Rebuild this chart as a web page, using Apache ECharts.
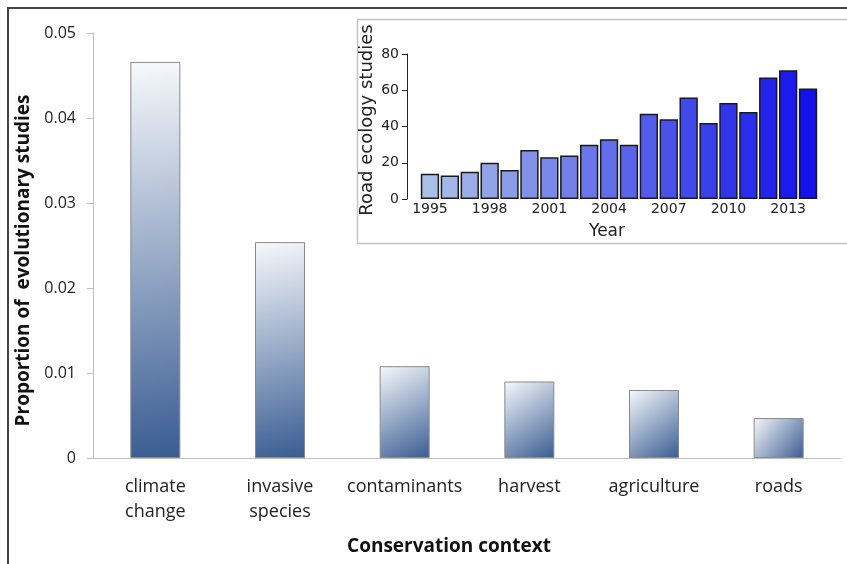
<!DOCTYPE html>
<html>
<head>
<meta charset="utf-8">
<script src="https://cdn.jsdelivr.net/npm/echarts@6/dist/echarts.min.js"></script>
<style>
  html, body { margin: 0; padding: 0; background: #fff; }
  #chart { width: 847px; height: 564px; }
</style>
</head>
<body>
<div id="chart"></div>
<script>
  // main chart: proportion of evolutionary studies per conservation context
  var contexts = ['climate change', 'invasive species', 'contaminants', 'harvest', 'agriculture', 'roads'];
  var proportions = [0.0466, 0.0254, 0.0108, 0.0090, 0.0080, 0.0047];
  var propTicks = [0, 0.01, 0.02, 0.03, 0.04, 0.05];

  // inset: road ecology studies per year
  var years = ['1995', '1996', '1997', '1998', '1999', '2000', '2001', '2002', '2003', '2004',
    '2005', '2006', '2007', '2008', '2009', '2010', '2011', '2012', '2013', '2014'];
  var roadStudies = [14, 13, 15, 20, 16, 27, 23, 24, 30, 33, 30, 47, 44, 56, 42, 53, 48, 67, 71, 61];
  var roadTicks = [0, 20, 40, 60, 80];

  var mainFont = '"Open Sans", "Liberation Sans", sans-serif';
  var insetFont = '"DejaVu Sans", sans-serif';

  function yearColor(i, n) {
    var a = [170, 191, 231], b = [18, 18, 236];
    var t = i / (n - 1);
    var c = a.map(function (v, k) { return Math.round(v + (b[k] - v) * t); });
    return 'rgb(' + c.join(',') + ')';
  }

  var chart = echarts.init(document.getElementById('chart'));

  chart.setOption({
    animation: false,
    backgroundColor: '#fff',
    graphic: [
      {
        type: 'rect',
        shape: {x: 8, y: 8, width: 900, height: 600},
        style: {fill: 'none', stroke: '#444', lineWidth: 2},
        silent: true
      },
      {
        type: 'rect',
        shape: {x: 357.5, y: 19.5, width: 600, height: 224},
        style: {fill: 'none', stroke: '#c4c4c4', lineWidth: 1.5},
        silent: true
      }
    ],
    grid: [
      {left: 93, right: 6, top: 33, bottom: 106},
      {left: 420, right: 29, top: 54, bottom: 365}
    ],
    xAxis: [
      {
        type: 'category',
        gridIndex: 0,
        data: contexts,
        name: 'Conservation context',
        nameLocation: 'middle',
        nameGap: 79,
        nameTextStyle: {
          fontFamily: mainFont, fontSize: 19, fontWeight: 'bold', color: '#111',
          padding: [0, 36, 0, 0]
        },
        axisLine: {lineStyle: {color: '#bfbfbf', width: 1}},
        axisTick: {length: 6, interval: 0, lineStyle: {color: '#bfbfbf'}},
        axisLabel: {
          interval: 0,
          margin: 16,
          fontFamily: mainFont,
          fontSize: 18,
          lineHeight: 25,
          color: '#222',
          formatter: function (v) { return v.replace(' ', '\n'); }
        }
      },
      {
        type: 'category',
        gridIndex: 1,
        data: years,
        name: 'Year',
        nameLocation: 'middle',
        nameGap: 24,
        nameTextStyle: {
          fontFamily: insetFont, fontSize: 17, color: '#222',
          padding: [0, 24, 0, 0]
        },
        axisLine: {show: false},
        axisTick: {alignWithLabel: true, interval: 0, length: 4, lineStyle: {color: '#222'}},
        axisLabel: {
          interval: 2,
          margin: 3,
          fontFamily: insetFont,
          fontSize: 14,
          color: '#222'
        }
      }
    ],
    yAxis: [
      {
        type: 'value',
        gridIndex: 0,
        min: propTicks[0],
        max: propTicks[propTicks.length - 1],
        interval: 0.01,
        name: 'Proportion of  evolutionary studies',
        nameLocation: 'middle',
        nameGap: 55,
        nameTextStyle: {
          fontFamily: mainFont, fontSize: 19, fontWeight: 'bold', color: '#111',
          padding: [0, 30, 0, 0]
        },
        axisLine: {show: true, lineStyle: {color: '#bfbfbf', width: 1}},
        axisTick: {show: true, length: 6, lineStyle: {color: '#bfbfbf'}},
        splitLine: {show: false},
        axisLabel: {
          margin: 17,
          fontFamily: mainFont,
          fontSize: 16,
          color: '#222',
          formatter: function (v) { return v === 0 ? '0' : v.toFixed(2); }
        }
      },
      {
        type: 'value',
        gridIndex: 1,
        min: roadTicks[0],
        max: roadTicks[roadTicks.length - 1],
        interval: 20,
        offset: 13,
        name: 'Road ecology studies',
        nameLocation: 'middle',
        nameGap: 31,
        nameTextStyle: {
          fontFamily: insetFont, fontSize: 18, color: '#222',
          padding: [0, 0, 0, 13]
        },
        axisLine: {show: true, lineStyle: {color: '#222', width: 1}},
        axisTick: {show: true, length: 5, lineStyle: {color: '#222'}},
        splitLine: {show: false},
        axisLabel: {
          margin: 8,
          fontFamily: insetFont,
          fontSize: 14,
          color: '#222'
        }
      }
    ],
    series: [
      {
        type: 'bar',
        xAxisIndex: 0,
        yAxisIndex: 0,
        barWidth: 50,
        data: proportions,
        itemStyle: {
          borderColor: '#8a8a8a',
          borderWidth: 1,
          color: new echarts.graphic.LinearGradient(0, 0, 1, 1, [
            {offset: 0, color: '#f7f9fc'},
            {offset: 1, color: '#395c92'}
          ])
        }
      },
      {
        type: 'bar',
        xAxisIndex: 1,
        yAxisIndex: 1,
        barCategoryGap: '8%',
        data: roadStudies.map(function (v, i) {
          return {value: v, itemStyle: {color: yearColor(i, roadStudies.length)}};
        }),
        itemStyle: {
          borderColor: '#1a1a1a',
          borderWidth: 1.5
        }
      }
    ]
  });
</script>
</body>
</html>
